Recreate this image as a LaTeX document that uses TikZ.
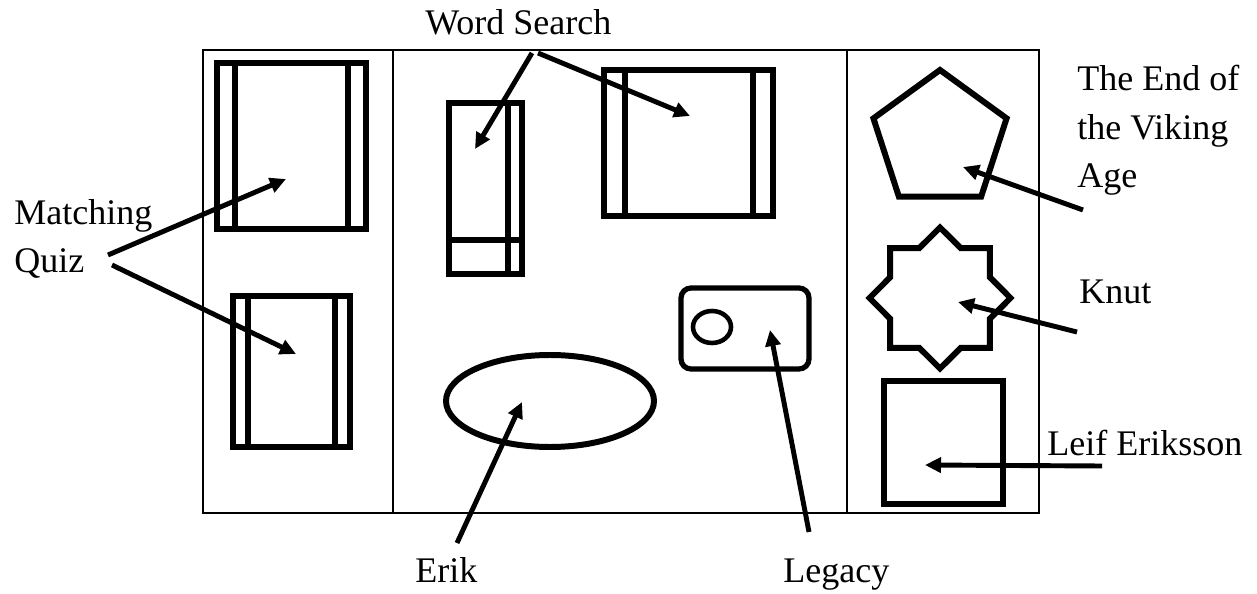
\documentclass[tikz,border=0pt]{standalone}
\usepackage{fontspec}
\setmainfont{Liberation Serif}
\usetikzlibrary{arrows.meta}

\begin{document}
\begin{tikzpicture}[x=0.02cm,y=-0.02cm,
    outline/.style={line width=1.4pt},
    shapeline/.style={line width=3.4pt},
    pointer/.style={line width=2.8pt,-{Triangle[length=3.2mm,width=3mm]}},
    tag/.style={inner sep=0pt,anchor=base west,align=left,font=\fontsize{20.5}{27.8}\selectfont}]
  \useasboundingbox (0,0) rectangle (1257,594);
  \draw[outline] (203,50) rectangle (1039,513); % frame
  \draw[outline] (393,50) -- (393,513); % left divider
  \draw[outline] (847,50) -- (847,513); % right divider

  % left column
  \draw[shapeline] (217,63) rectangle (366,229);
  \draw[shapeline] (235,63) -- (235,229);
  \draw[shapeline] (348,63) -- (348,229);
  \draw[shapeline] (233,296) rectangle (350,447);
  \draw[shapeline] (248,296) -- (248,447);
  \draw[shapeline] (335,296) -- (335,447);

  % middle column
  \draw[shapeline] (449,103) rectangle (522,274);
  \draw[shapeline] (508,103) -- (508,274);
  \draw[shapeline] (449,240) -- (522,240);
  \draw[shapeline] (604,70) rectangle (773,216);
  \draw[shapeline] (625,70) -- (625,216);
  \draw[shapeline] (753,70) -- (753,216);
  \draw[line width=3pt,rounded corners=0.2cm] (681,288) rectangle (809,369);
  \draw[line width=2.6pt] (712,327) ellipse [x radius=19,y radius=16];
  \draw[shapeline] (550,401) ellipse [x radius=104,y radius=46];

  % right column
  \begin{scope}[shift={(940,140)}]
    \draw[shapeline] (270:70) -- (342:70) -- (54:70) -- (126:70) -- (198:70) -- cycle; % pentagon
  \end{scope}
  \begin{scope}[shift={(940,298)}]
    \draw[shapeline] (0:70.5) \foreach \a in {0,45,...,315} {-- (\a+22.5:54) -- (\a+45:70.5)} -- cycle; % star
  \end{scope}
  \draw[shapeline] (884,381) rectangle (1003,504);

  % labels
  \node[tag] (quiz) at (14,273) {Matching\\Quiz};
  \node[tag] (search) at (425,35) {Word Search};
  \node[tag] (erik) at (415,582) {Erik};
  \node[tag] (legacy) at (783,582) {Legacy};
  \node[tag] (age) at (1077,188) {The End of\\the Viking\\Age};
  \node[tag] (knut) at (1079,304) {Knut};
  \node[tag] (leif) at (1047,455) {Leif Eriksson};

  % arrow ends
  \coordinate (quizA) at (108,255); \coordinate (quizAtip) at (286,179);
  \coordinate (quizB) at (112,265); \coordinate (quizBtip) at (296,354);
  \coordinate (searchA) at (532,53); \coordinate (searchAtip) at (475,149);
  \coordinate (searchB) at (538,53); \coordinate (searchBtip) at (690,116);
  \coordinate (erikA) at (457,543); \coordinate (erikAtip) at (522,402);
  \coordinate (legacyA) at (809,532); \coordinate (legacyAtip) at (770,330);
  \coordinate (ageA) at (1083,210); \coordinate (ageAtip) at (963,167);
  \coordinate (knutA) at (1077,332); \coordinate (knutAtip) at (958,302);
  \coordinate (leifA) at (1102,466); \coordinate (leifAtip) at (925,465);

  \draw[pointer] (quizA) -- (quizAtip);
  \draw[pointer] (quizB) -- (quizBtip);
  \draw[pointer] (searchA) -- (searchAtip);
  \draw[pointer] (searchB) -- (searchBtip);
  \draw[pointer] (erikA) -- (erikAtip);
  \draw[pointer] (legacyA) -- (legacyAtip);
  \draw[pointer] (ageA) -- (ageAtip);
  \draw[pointer] (knutA) -- (knutAtip);
  \draw[pointer] (leifA) -- (leifAtip);
\end{tikzpicture}
\end{document}
